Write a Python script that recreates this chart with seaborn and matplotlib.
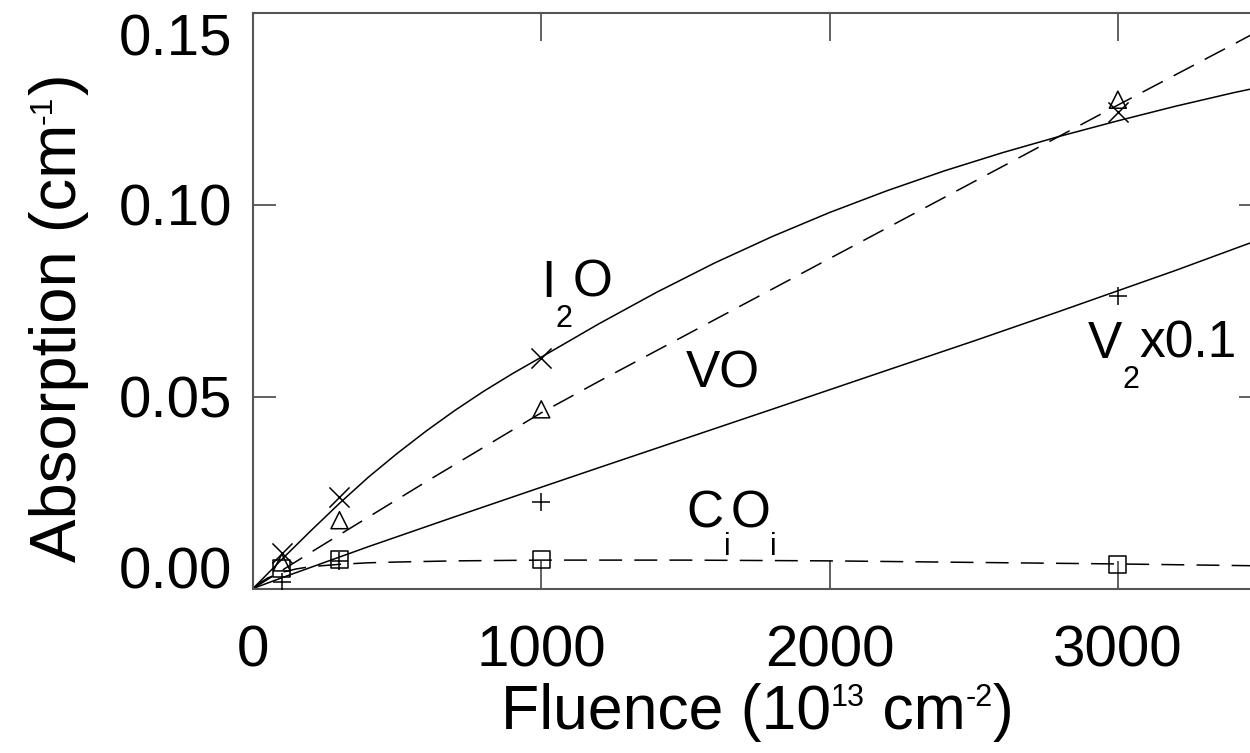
import numpy as np
import pandas as pd
import matplotlib
matplotlib.use('Agg')
import matplotlib.pyplot as plt
from matplotlib.transforms import offset_copy
import seaborn as sns

# fitted curves
i2o_x = [0, 50, 100, 200, 300, 400, 500, 600, 700, 800, 900, 1000, 1200, 1400, 1600, 1800,
         2000, 2200, 2400, 2600, 2800, 3000, 3200, 3400, 3500]
i2o_fit = [0, 0.0038, 0.0076, 0.0150, 0.0222, 0.0290, 0.0352, 0.0410, 0.0464, 0.0514, 0.0560,
           0.0603, 0.0690, 0.0772, 0.0848, 0.0917, 0.0980, 0.1037, 0.1089, 0.1136, 0.1179,
           0.1219, 0.1257, 0.1292, 0.1308]
vo_x = [0, 100, 200, 300, 400, 500, 600, 700, 800, 900, 1000, 1200, 1400, 1600, 1800, 2000,
        2200, 2400, 2600, 2800, 3000, 3200, 3400, 3500]
vo_fit = [0, 0.0047, 0.0094, 0.0140, 0.0186, 0.0232, 0.0278, 0.0323, 0.0368, 0.0413, 0.0458,
          0.0540, 0.0620, 0.0700, 0.0780, 0.0860, 0.0940, 0.1020, 0.1100, 0.1180, 0.1260,
          0.1339, 0.1418, 0.1458]
v2_x = [0, 100, 200, 300, 400, 500, 700, 1000, 1200, 1500, 1800, 2000, 2200, 2500, 2800,
        3000, 3200, 3500]
v2_fit = [0, 0.0028, 0.0055, 0.0082, 0.0109, 0.0135, 0.0187, 0.0264, 0.0315, 0.0391, 0.0467,
          0.0518, 0.0569, 0.0645, 0.0723, 0.0776, 0.0829, 0.0912]
cioi_x = [0, 25, 50, 100, 150, 200, 300, 400, 500, 700, 1000, 1500, 2000, 2500, 3000, 3500]
cioi_fit = [0, 0.0015, 0.0027, 0.0042, 0.0051, 0.0057, 0.0063, 0.0067, 0.0069, 0.0072,
            0.0074, 0.0074, 0.0072, 0.0068, 0.0064, 0.0059]

# measured points
fluence = [100, 300, 1000, 3000]
i2o_pts = [0.0092, 0.0239, 0.0600, 0.1242]
vo_pts = [0.0068, 0.0178, 0.0467, 0.1274]
v2_pts = [0.0018, 0.0071, 0.0226, 0.0762]
cioi_pts = [0.0053, 0.0076, 0.0076, 0.0062]

species = ['I2O', 'VO', 'V2', 'CiOi']
fit_x = [i2o_x, vo_x, v2_x, cioi_x]
fits = [i2o_fit, vo_fit, v2_fit, cioi_fit]
pts = [i2o_pts, vo_pts, v2_pts, cioi_pts]

curves = pd.concat([pd.DataFrame({'fluence': fx, 'absorption': f, 'species': s})
                    for s, fx, f in zip(species, fit_x, fits)], ignore_index=True)
points = pd.concat([pd.DataFrame({'fluence': fluence, 'absorption': p, 'species': s})
                    for s, p in zip(species, pts)], ignore_index=True)

sns.set_style('ticks')
plt.rcParams['font.family'] = ['Liberation Sans', 'DejaVu Sans']

fig = plt.figure(figsize=(12.5, 7.53), dpi=100)
W, H = 1250, 753
ax = fig.add_axes([253 / W, (H - 588.5) / H, 1009 / W, 575.5 / H])

lw = 1.1
dash = (15, 8)
sns.lineplot(data=curves, x='fluence', y='absorption', style='species',
             dashes={'I2O': '', 'VO': dash, 'V2': '', 'CiOi': dash},
             color='black', linewidth=lw, legend=False, sort=False,
             estimator=None, ax=ax)

markers = {'I2O': ('x', 210), 'VO': ('^', 150), 'V2': ('+', 160), 'CiOi': ('s', 150)}
for s in species:
    m, size = markers[s]
    sub = points[points['species'] == s]
    if m in ('x', '+'):
        sns.scatterplot(data=sub, x='fluence', y='absorption', marker=m, s=size,
                        color='black', linewidth=lw, ax=ax, zorder=3)
    else:
        sns.scatterplot(data=sub, x='fluence', y='absorption', marker=m, s=size,
                        facecolor='none', edgecolor='black', linewidth=lw, ax=ax, zorder=3)

ax.set_xlim(0, 3500)
ax.set_ylim(0, 0.15)
ax.set_xticks([0, 1000, 2000, 3000])
ax.set_yticks([0.0, 0.05, 0.10, 0.15])
ax.set_yticklabels(['0.00', '0.05', '0.10', '0.15'])
ax.set_xlabel('')
ax.set_ylabel('')

spine_col = '#555555'
for sp in ax.spines.values():
    sp.set_visible(True)
    sp.set_color(spine_col)
    sp.set_linewidth(1.5)
ax.tick_params(axis='x', which='both', direction='in', length=20, width=1.3,
               color=spine_col, labelcolor='black', labelsize=42, pad=26,
               top=True, bottom=True)
ax.tick_params(axis='y', which='both', direction='in', length=16.5, width=1.3,
               color=spine_col, labelcolor='black', labelsize=42, pad=15,
               left=True, right=True)

fig.canvas.draw()
ylabs = ax.get_yticklabels()
ylabs[0].set_va('baseline')
ylabs[-1].set_va('top')


def compose(x, y, parts, base, rotation=0, center=False):
    # lay text pieces side by side; each piece is (text, size, rise in px)
    renderer = fig.canvas.get_renderer()
    made = []
    adv = 0
    for txt, size, rise in parts:
        t = fig.text(x, y, txt, transform=base, ha='left', va='baseline',
                     fontsize=size, color='black', rotation=rotation,
                     rotation_mode='anchor', clip_on=False)
        made.append((t, adv, rise))
        ext = t.get_window_extent(renderer)
        adv += ext.width if rotation == 0 else ext.height
    shift = -adv / 2 if center else 0
    for t, a, rise in made:
        if rotation == 0:
            ox, oy = a + shift, rise
        else:
            ox, oy = -rise, a + shift
        t.set_transform(offset_copy(base, fig=fig, x=ox, y=oy, units='dots'))


# axis titles
compose(757 / W, (H - 729) / H,
        [('Fluence (10', 45, 0), ('13', 22, 23), (' cm', 45, 0), ('-2', 22, 23), (')', 45, 0)],
        fig.transFigure, center=True)
compose(76 / W, (H - 318) / H,
        [('Absorption (cm', 47, 0), ('-1', 23, 24), (')', 47, 0)],
        fig.transFigure, rotation=90, center=True)

# curve labels
compose(1000, 0.0760, [('I', 37, 0), ('2', 22, -30), ('O', 37, 0)], ax.transData)
compose(1500, 0.0523, [('VO', 37, 0)], ax.transData)
compose(1505, 0.0158, [('C', 37, 0), ('i', 22, -27), ('O', 37, 0), ('i', 22, -27)], ax.transData)
compose(2896, 0.0601, [('V', 37, 0), ('2', 22, -30), ('x0.1', 37, 0)], ax.transData)

fig.savefig('out.png', dpi=100)
